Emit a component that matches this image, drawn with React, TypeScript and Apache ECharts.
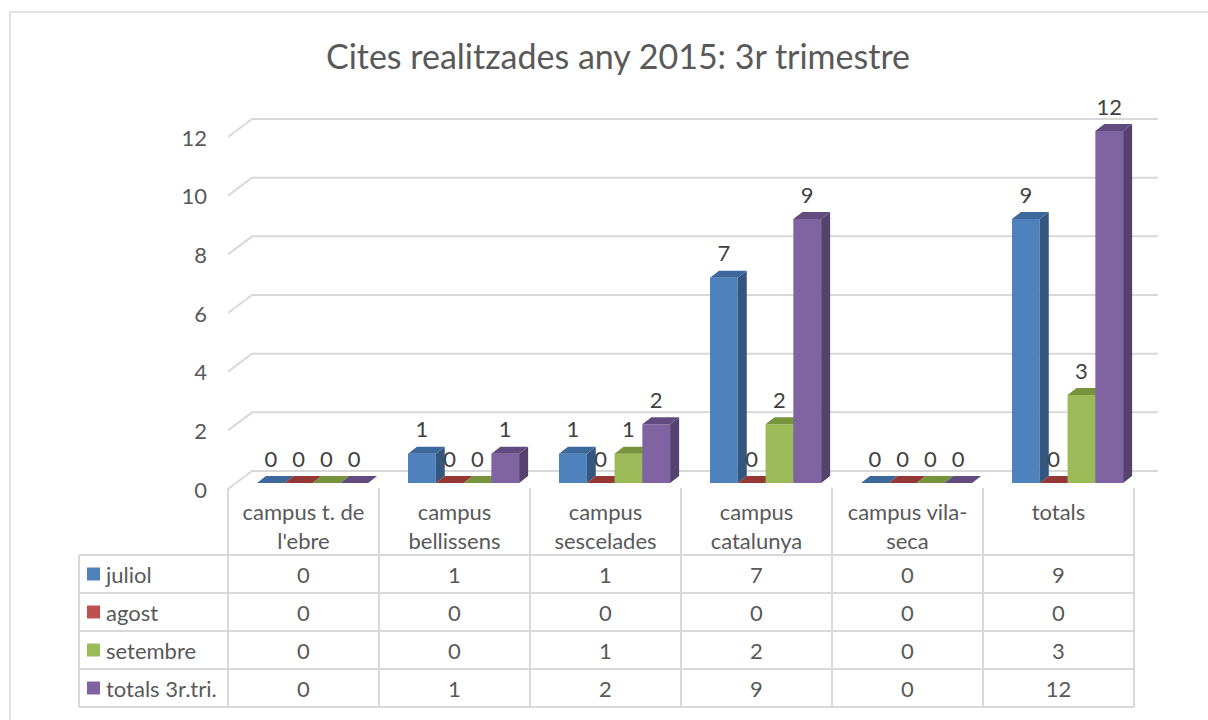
import React, { useEffect, useRef } from "react";
import * as echarts from "echarts";

const title = "Cites realitzades any 2015: 3r trimestre";
const categories = [
  "campus t. de\nl'ebre",
  "campus\nbellissens",
  "campus\nsescelades",
  "campus\ncatalunya",
  "campus vila-\nseca",
  "totals",
];
const seriesNames = ["juliol", "agost", "setembre", "totals 3r.tri."];
const juliol = [0, 1, 1, 7, 0, 9];
const agost = [0, 0, 0, 0, 0, 0];
const setembre = [0, 0, 1, 2, 0, 3];
const totals3r = [0, 1, 2, 9, 0, 12];
const yTicks = [0, 2, 4, 6, 8, 10, 12];

const seriesValues = [juliol, agost, setembre, totals3r];
const frontColors = ["#4F81BD", "#C0504D", "#9BBB59", "#8064A2"];
const sideColors = ["#34577F", "#8A3634", "#6C8540", "#56426F"];
const topColors = ["#3C689B", "#953735", "#77933C", "#624B7E"];

const FONT = "Lato, 'Open Sans', sans-serif";
const FS = 22;
const DEPTH_X = 24;
const DEPTH_Y = -18;
const BAR_DX = 9;
const BAR_DY = -7;

export default function App() {
  const ref = useRef<HTMLDivElement>(null);

  useEffect(() => {
    document.body.style.margin = "0";
    if (!ref.current) return;
    const chart = echarts.init(ref.current, undefined, { renderer: "svg" });

    const gridSeries: any = {
      type: "custom",
      coordinateSystem: "cartesian2d",
      z: 1,
      silent: true,
      clip: false,
      data: yTicks.map((v) => [0, v]),
      renderItem: (params: any, api: any) => {
        const v = api.value(1);
        const c = api.coord([0, v]);
        const band = api.size([1, 0])[0];
        const xl = c[0] - band / 2;
        const xr = xl + band * categories.length;
        const y = c[1];
        return {
          type: "polyline",
          shape: {
            points: [
              [xl, y],
              [xl + DEPTH_X, y + DEPTH_Y],
              [xr + DEPTH_X, y + DEPTH_Y],
            ],
          },
          style: { stroke: "#D9D9D9", lineWidth: 2, fill: null },
        };
      },
    };

    const barSeries = seriesValues.map((vals, s) => ({
      type: "custom",
      name: seriesNames[s],
      coordinateSystem: "cartesian2d",
      z: 2 + s,
      clip: false,
      data: vals.map((v, i) => [i, v]),
      renderItem: (params: any, api: any) => {
        const cat = api.value(0);
        const v = api.value(1);
        const c = api.coord([cat, v]);
        const c0 = api.coord([cat, 0]);
        const band = api.size([1, 0])[0];
        const bw = band * 0.184;
        const x = c[0] - band * 0.308 + s * bw;
        const yb = c0[1] - 6;
        const yt = c[1] - 6;
        const children: any[] = [];
        if (v > 0) {
          children.push({
            type: "rect",
            shape: { x, y: yt, width: bw, height: yb - yt },
            style: { fill: frontColors[s] },
          });
          children.push({
            type: "polygon",
            shape: {
              points: [
                [x + bw, yt],
                [x + bw + BAR_DX, yt + BAR_DY],
                [x + bw + BAR_DX, yb + BAR_DY],
                [x + bw, yb],
              ],
            },
            style: { fill: sideColors[s] },
          });
        }
        children.push({
          type: "polygon",
          shape: {
            points: [
              [x, yt],
              [x + bw, yt],
              [x + bw + BAR_DX, yt + BAR_DY],
              [x + BAR_DX, yt + BAR_DY],
            ],
          },
          style: { fill: topColors[s] },
        });
        children.push({
          type: "text",
          style: {
            text: String(v),
            x: x + bw / 2,
            y: yt - 25,
            align: "center",
            verticalAlign: "middle",
            fontSize: FS,
            fontFamily: FONT,
            fill: "#404040",
          },
        });
        return { type: "group", children };
      },
    }));

    chart.setOption({
      animation: false,
      backgroundColor: "#FFFFFF",
      title: {
        text: title,
        left: 613,
        top: 33,
        textAlign: "center",
        textStyle: {
          fontFamily: FONT,
          fontSize: 34,
          fontWeight: "normal",
          color: "#595959",
        },
      },
      grid: { left: 228, right: 74, top: 137, bottom: 231 },
      xAxis: {
        type: "category",
        data: categories,
        axisLine: { show: false },
        axisTick: { show: false },
        axisLabel: { show: false },
        splitLine: { show: false },
      },
      yAxis: {
        type: "value",
        min: 0,
        max: 12,
        interval: 2,
        axisLine: { show: false },
        axisTick: { show: false },
        splitLine: { show: false },
        axisLabel: {
          margin: 21,
          fontSize: FS,
          fontFamily: FONT,
          color: "#595959",
        },
      },
      series: [gridSeries, ...barSeries],
    });

    // Data table under the plot
    const centers = categories.map((_, i) =>
      chart.convertToPixel({ xAxisIndex: 0 }, i) as number
    );
    const band = centers[1] - centers[0];
    const colLeft = centers[0] - band / 2;
    const colRight = centers[centers.length - 1] + band / 2;
    const tableLeft = 79;
    const headerTop = 488;
    const rowLines = [555, 593, 631, 669, 707];
    const lineStyle = { stroke: "#D9D9D9", lineWidth: 2 };
    const els: any[] = [];

    els.push({
      type: "rect",
      shape: { x: 10, y: 12, width: 1230, height: 730 },
      style: { fill: null, stroke: "#D9D9D9", lineWidth: 1.5 },
      z: 0,
    });

    rowLines.forEach((y) => {
      els.push({
        type: "line",
        shape: { x1: tableLeft, y1: y, x2: colRight, y2: y },
        style: lineStyle,
      });
    });
    els.push({
      type: "line",
      shape: { x1: tableLeft, y1: rowLines[0], x2: tableLeft, y2: rowLines[rowLines.length - 1] },
      style: lineStyle,
    });
    for (let k = 0; k <= categories.length; k++) {
      const x = colLeft + k * band;
      els.push({
        type: "line",
        shape: { x1: x, y1: headerTop, x2: x, y2: rowLines[rowLines.length - 1] },
        style: lineStyle,
      });
    }
    categories.forEach((cat, i) => {
      els.push({
        type: "text",
        style: {
          text: cat,
          x: centers[i],
          y: 497,
          align: "center",
          verticalAlign: "top",
          fontSize: FS,
          lineHeight: 29,
          fontFamily: FONT,
          fill: "#595959",
        },
      });
    });
    seriesNames.forEach((name, r) => {
      const yc = (rowLines[r] + rowLines[r + 1]) / 2;
      els.push({
        type: "rect",
        shape: { x: 87, y: yc - 6.5, width: 13, height: 13 },
        style: { fill: frontColors[r] },
      });
      els.push({
        type: "text",
        style: {
          text: name,
          x: 106,
          y: yc,
          align: "left",
          verticalAlign: "middle",
          fontSize: FS,
          fontFamily: FONT,
          fill: "#595959",
        },
      });
      seriesValues[r].forEach((v, i) => {
        els.push({
          type: "text",
          style: {
            text: String(v),
            x: centers[i],
            y: yc,
            align: "center",
            verticalAlign: "middle",
            fontSize: FS,
            fontFamily: FONT,
            fill: "#595959",
          },
        });
      });
    });

    chart.setOption({ graphic: { elements: els } });

    return () => {
      chart.dispose();
    };
  }, []);

  return <div ref={ref} style={{ width: 1208, height: 720 }} />;
}
